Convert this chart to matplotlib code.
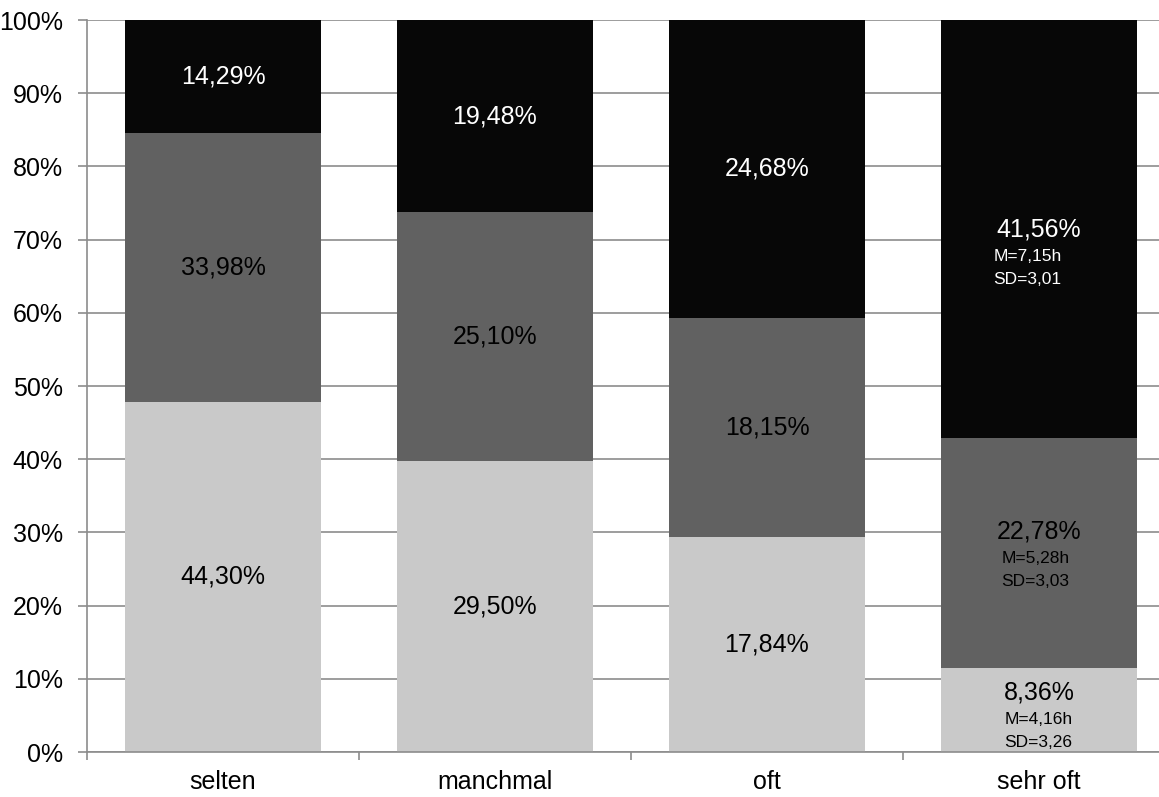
import matplotlib.pyplot as plt
import numpy as np

plt.rcParams['font.family'] = ['Liberation Sans', 'DejaVu Sans']

# categories and raw percentages (as printed in the bars)
categories = ['selten', 'manchmal', 'oft', 'sehr oft']
low = [44.30, 29.50, 17.84, 8.36]
mid = [33.98, 25.10, 18.15, 22.78]
high = [14.29, 19.48, 24.68, 41.56]

# extra stats shown for "sehr oft"
stats_low = ['M=4,16h', 'SD=3,26']
stats_mid = ['M=5,28h', 'SD=3,03']
stats_high = ['M=7,15h', 'SD=3,01']

colors = ['#c9c9c9', '#616161', '#070707']
text_colors = ['black', 'black', 'white']

low = np.array(low)
mid = np.array(mid)
high = np.array(high)
total = low + mid + high
parts = [low / total * 100, mid / total * 100, high / total * 100]
raw = [low, mid, high]

fig = plt.figure(figsize=(11.59, 7.97), dpi=100)
# axes runs past the right edge like in the original
ax = fig.add_axes([87 / 1159, 45 / 797, 1088 / 1159, 732 / 797])

x = np.arange(len(categories))
bottom = np.zeros(len(categories))
for i in range(3):
    ax.bar(x, parts[i], bottom=bottom, width=0.72, color=colors[i], zorder=2)
    for j in range(len(categories)):
        center = bottom[j] + parts[i][j] / 2
        lbl = f'{raw[i][j]:.2f}%'.replace('.', ',')
        if j == 3:
            stats = [stats_low, stats_mid, stats_high][i]
            shift = [2.4, 2.9, 0.0][i]
            xoff = [-0.128, -0.138, -0.168][i]
            y0 = center + shift
            ax.text(x[j], y0, lbl, ha='center', va='center',
                    fontsize=18, color=text_colors[i], zorder=3)
            ax.text(x[j] + xoff, y0 - 3.7, stats[0], ha='left', va='center',
                    fontsize=12.5, color=text_colors[i], zorder=3)
            ax.text(x[j] + xoff, y0 - 6.8, stats[1], ha='left', va='center',
                    fontsize=12.5, color=text_colors[i], zorder=3)
        else:
            ax.text(x[j], center, lbl, ha='center', va='center',
                    fontsize=18, color=text_colors[i], zorder=3)
    bottom += parts[i]

ax.set_xlim(-0.5, len(categories) - 0.5)
ax.set_ylim(0, 100)
ax.set_yticks(np.arange(0, 101, 10))
ax.set_yticklabels([f'{v}%' for v in range(0, 101, 10)], fontsize=18)
ax.yaxis.grid(True, color='#8c8c8c', linewidth=1.2, zorder=0)
ax.set_axisbelow(True)

ax.set_xticks(x)
ax.set_xticklabels(categories, fontsize=18)
ax.tick_params(axis='x', length=0, pad=13)
ax.set_xticks(np.arange(-0.5, len(categories), 1), minor=True)
ax.tick_params(axis='x', which='minor', length=6, color='#8c8c8c', width=1.2)
ax.tick_params(axis='y', length=6.5, color='#8c8c8c', width=1.2, pad=11)

for s in ['top', 'right']:
    ax.spines[s].set_visible(False)
for s in ['left', 'bottom']:
    ax.spines[s].set_color('#8c8c8c')
    ax.spines[s].set_linewidth(1.2)

fig.savefig('out.png', dpi=100)
